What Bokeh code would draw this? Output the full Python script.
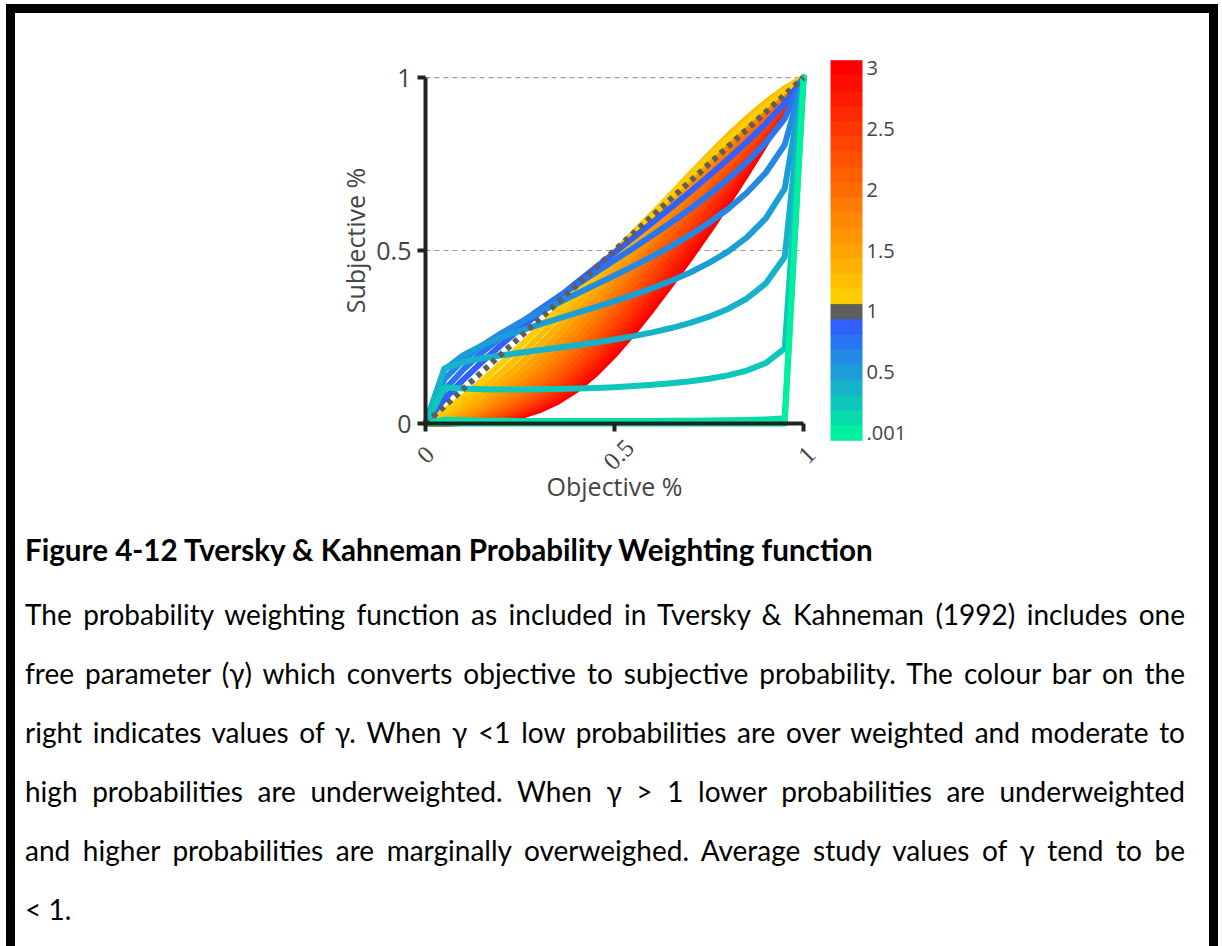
import html
import math
import numpy as np
from bokeh.plotting import figure
from bokeh.models import Range1d, FixedTicker, ColumnDataSource, LabelSet, Label, Div, Spacer
from bokeh.layouts import row, column
from bokeh.embed import file_html
from bokeh.resources import INLINE

# ---------------- data ----------------
# objective probabilities at which each curve was evaluated (kinks at .05 / .95)
objective_p = [0.0, 0.05, 0.1, 0.15, 0.2, 0.25, 0.3, 0.35, 0.4, 0.45, 0.5,
               0.55, 0.6, 0.65, 0.7, 0.75, 0.8, 0.85, 0.9, 0.95, 1.0]
# gamma values: one per colour-bar band (25 bands)
gamma_values = [0.001, 0.125, 0.25, 0.375, 0.5, 0.625, 0.75, 0.875, 1.0,
                1.125, 1.25, 1.375, 1.5, 1.625, 1.75, 1.875, 2.0,
                2.125, 2.25, 2.375, 2.5, 2.625, 2.75, 2.875, 3.0]
gamma_colors = ["#00f0a0", "#07dbae", "#0ec7bb", "#15b2c9", "#1b9ed6", "#2289e4",
                "#2975f1", "#3060ff", "#5e5e5e",
                "#ffcc00", "#ffbe00", "#ffb100", "#ffa300", "#ff9600", "#ff8800",
                "#ff7a00", "#ff6d00", "#ff5f00", "#ff5200", "#ff4400", "#ff3600",
                "#ff2900", "#ff1b00", "#ff0e00", "#ff0000"]
x_ticks = [0, 0.5, 1]
x_tick_labels = ["0", "0.5", "1"]
y_ticks = [0, 0.5, 1]
y_tick_labels = ["0", "0.5", "1"]
cbar_tick_values = [0.001, 0.5, 1.0, 1.5, 2.0, 2.5, 3.0]
cbar_tick_labels = [".001", "0.5", "1", "1.5", "2", "2.5", "3"]

x_title = "Objective %"
y_title = "Subjective %"
caption_title = "Figure 4-12 Tversky & Kahneman Probability Weighting function"
caption_lines = [
    "The probability weighting function as included in Tversky & Kahneman (1992) includes one",
    "free parameter (\u03b3) which converts objective to subjective probability. The colour bar on the",
    "right indicates values of \u03b3. When \u03b3 <1 low probabilities are over weighted and moderate to",
    "high probabilities are underweighted. When \u03b3 > 1 lower probabilities are underweighted",
    "and higher probabilities are marginally overweighed. Average study values of \u03b3 tend to be",
    "< 1.",
]


def tk_weight(p, g):
    """Tversky & Kahneman (1992) probability weighting function (the plotted model)."""
    p = np.asarray(p, dtype=float)
    with np.errstate(divide="ignore"):
        lp = np.log(p)
        lq = np.log(1.0 - p)
    den = np.exp(g * lp) + np.exp(g * lq)
    return np.exp(g * lp - np.log(den) / g)


FONT = "Open Sans"
TXT = "#444444"
AX = "#222222"
FIG_H = 507
TOP, BOTTOM = 45, 15          # shared frame borders (plots in a row align their frames)

# ---------------- main chart ----------------
# the frame is larger than the 0..1 square so that tick labels and titles fit inside it;
# both axes are pinned at 0 and bounded to 0..1
p = figure(width=807, height=FIG_H, x_range=Range1d(-0.238, 1.05), y_range=Range1d(-0.237, 1.055),
           min_border_left=320, min_border_right=0, min_border_top=TOP, min_border_bottom=BOTTOM,
           output_backend="svg", toolbar_location=None, tools="",
           background_fill_color="white", border_fill_color="white",
           outline_line_color=None, margin=0)
p.grid.visible = False

# dashed reference lines at the y ticks
gy = [t for t in y_ticks if t > 0]
p.segment(x0=[0] * len(gy), x1=[1] * len(gy), y0=gy, y1=gy,
          line_color="#9a9a9a", line_width=1.2, line_dash="5 4")

diag = None
for i in reversed(range(len(gamma_values))):
    g = gamma_values[i]
    w = tk_weight(objective_p, g)
    if g == 1.0:
        diag = (w, gamma_colors[i])
    else:
        p.line(objective_p, w, line_color=gamma_colors[i], line_width=6,
               line_join="round", line_cap="round")
# gamma = 1 (identity) drawn on top as a dotted line
p.line(objective_p, diag[0], line_color=diag[1], line_width=6,
       line_dash="5 5", line_cap="butt")

for ax in (p.xaxis[0], p.yaxis[0]):
    ax.fixed_location = 0
    ax.bounds = (0, 1)
    ax.axis_line_color = AX
    ax.axis_line_width = 4
    ax.major_tick_line_color = AX
    ax.major_tick_line_width = 4
    ax.major_tick_out = 8
    ax.major_tick_in = 0
    ax.minor_tick_out = 0
    ax.minor_tick_in = 0
    ax.major_label_text_font = FONT
    ax.major_label_text_color = TXT

p.yaxis.ticker = FixedTicker(ticks=y_ticks)
p.yaxis.major_label_overrides = {float(t): s for t, s in zip(y_ticks, y_tick_labels)}
p.yaxis.major_label_text_font_size = "25px"
p.yaxis.major_label_standoff = 6

p.xaxis.ticker = FixedTicker(ticks=x_ticks)
p.xaxis.major_label_overrides = {float(t): "" for t in x_ticks}
p.xaxis.major_label_text_font_size = "1px"
p.xaxis.major_label_standoff = 0

xlab_src = ColumnDataSource(dict(x=x_ticks, y=[0] * len(x_ticks), text=x_tick_labels,
                                 dx=[0, 4, 3]))
p.add_layout(LabelSet(x="x", y="y", text="text", source=xlab_src,
                      x_offset="dx", y_offset=-31, angle=math.pi / 4,
                      text_align="center", text_baseline="middle",
                      text_font=FONT, text_font_size="25px", text_color=TXT))
# axis titles
p.add_layout(Label(x=0.5, y=0, text=x_title, y_offset=-62,
                   text_align="center", text_baseline="middle",
                   text_font=FONT, text_font_size="25px", text_color=TXT))
p.add_layout(Label(x=0, y=0.5, text=y_title, x_offset=-70, y_offset=10, angle=math.pi / 2,
                   text_align="center", text_baseline="middle",
                   text_font=FONT, text_font_size="25px", text_color=TXT))

# ---------------- colour bar ----------------
n = len(gamma_values)
band_px = 15.2
cb = figure(width=387, height=FIG_H, x_range=Range1d(0, 1),
            y_range=Range1d(-65 / band_px, n + 2 / band_px),
            min_border_left=8, min_border_right=347, min_border_top=TOP, min_border_bottom=BOTTOM,
            x_axis_location=None, y_axis_location="right",
            output_backend="svg", toolbar_location=None, tools="",
            background_fill_color="white", border_fill_color="white",
            outline_line_color=None, margin=0)
cb.quad(left=[0] * n, right=[1] * n, bottom=list(range(n)), top=[k + 1 for k in range(n)],
        fill_color=gamma_colors, line_color=gamma_colors, line_width=0.6)
cb.grid.visible = False
cb_pos = [gamma_values.index(v) + 0.5 for v in cbar_tick_values]
cax = cb.yaxis[0]
cax.ticker = FixedTicker(ticks=cb_pos)
cax.major_label_overrides = {float(t): s for t, s in zip(cb_pos, cbar_tick_labels)}
cax.axis_line_color = None
cax.major_tick_line_color = None
cax.minor_tick_line_color = None
cax.major_tick_out = 0
cax.major_tick_in = 0
cax.major_label_standoff = 4
cax.major_label_text_font = FONT
cax.major_label_text_font_size = "20px"
cax.major_label_text_color = TXT

# ---------------- caption ----------------
line_style = ("font-size:28px; line-height:59px; text-align:justify; "
              "text-align-last:justify;")
parts = ['<div style="font-family:Lato, sans-serif; color:#000; width:1170px; '
         'padding-left:10px; margin:0;">',
         '<div style="font-weight:bold; font-size:29.6px; line-height:59px; white-space:nowrap;">'
         + html.escape(caption_title) + '</div>',
         '<div style="height:6px;"></div>']
for k, ln in enumerate(caption_lines):
    st = line_style if k < len(caption_lines) - 1 else "font-size:28px; line-height:59px; text-align:left;"
    parts.append('<div style="%s">%s</div>' % (st, html.escape(ln)))
parts.append('</div>')
caption = Div(text="".join(parts), width=1194, height=426, margin=0)


def black(w, h):
    return Div(text="", width=w, height=h, margin=0, styles={"background-color": "#000000"})


inner = column(row(p, cb, spacing=0), caption, spacing=0)
top_row = row(Spacer(width=6, height=9, margin=0), black(1212, 9), spacing=0)
main_row = row(Spacer(width=6, height=933, margin=0), black(9, 933), inner, black(9, 933), spacing=0)
page = column(Spacer(width=1222, height=4, margin=0), top_row, main_row, spacing=0)

open("out.html", "w").write(file_html(page, INLINE))
